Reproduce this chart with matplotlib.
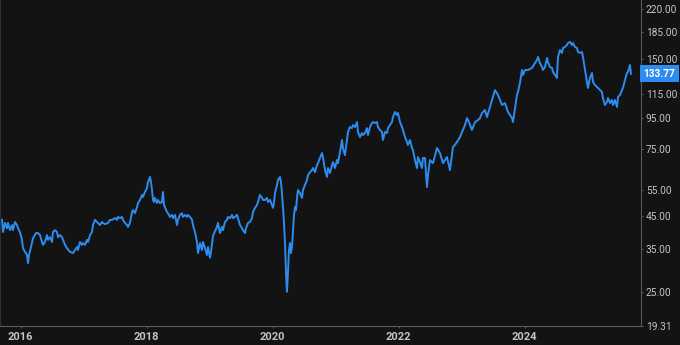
import matplotlib.pyplot as plt
from matplotlib.ticker import NullLocator

# price history (decimal year, price)
years = [
    2015.702, 2015.718, 2015.749, 2015.781, 2015.797, 2015.829, 2015.860, 2015.876, 2015.908, 2015.940,
    2015.956, 2015.987, 2016.019, 2016.035, 2016.067, 2016.099, 2016.114, 2016.130, 2016.162, 2016.194,
    2016.241, 2016.273, 2016.305, 2016.337, 2016.353, 2016.384, 2016.416, 2016.432, 2016.464, 2016.495,
    2016.511, 2016.543, 2016.575, 2016.591, 2016.622, 2016.654, 2016.670, 2016.702, 2016.733, 2016.781,
    2016.829, 2016.860, 2016.892, 2016.908, 2016.940, 2016.972, 2016.987, 2017.019, 2017.051, 2017.067,
    2017.099, 2017.130, 2017.146, 2017.178, 2017.210, 2017.226, 2017.257, 2017.289, 2017.305, 2017.337,
    2017.384, 2017.416, 2017.448, 2017.495, 2017.527, 2017.543, 2017.575, 2017.607, 2017.622, 2017.654,
    2017.686, 2017.702, 2017.733, 2017.765, 2017.781, 2017.813, 2017.845, 2017.860, 2017.892, 2017.924,
    2017.940, 2017.971, 2018.003, 2018.019, 2018.051, 2018.067, 2018.083, 2018.099, 2018.114, 2018.130,
    2018.162, 2018.178, 2018.210, 2018.241, 2018.257, 2018.273, 2018.321, 2018.337, 2018.368, 2018.400,
    2018.416, 2018.448, 2018.480, 2018.495, 2018.527, 2018.559, 2018.575, 2018.607, 2018.638, 2018.654,
    2018.686, 2018.718, 2018.733, 2018.765, 2018.797, 2018.813, 2018.845, 2018.876, 2018.892, 2018.924,
    2018.956, 2018.972, 2019.003, 2019.019, 2019.051, 2019.083, 2019.114, 2019.130, 2019.162, 2019.194,
    2019.210, 2019.241, 2019.273, 2019.289, 2019.321, 2019.353, 2019.368, 2019.400, 2019.432, 2019.448,
    2019.480, 2019.511, 2019.527, 2019.559, 2019.575, 2019.607, 2019.638, 2019.670, 2019.686, 2019.718,
    2019.749, 2019.765, 2019.797, 2019.829, 2019.845, 2019.876, 2019.908, 2019.924, 2019.956, 2019.987,
    2020.003, 2020.019, 2020.035, 2020.067, 2020.083, 2020.114, 2020.130, 2020.146, 2020.162, 2020.178,
    2020.194, 2020.210, 2020.225, 2020.241, 2020.257, 2020.273, 2020.289, 2020.305, 2020.321, 2020.337,
    2020.353, 2020.368, 2020.384, 2020.400, 2020.432, 2020.464, 2020.480, 2020.511, 2020.543, 2020.559,
    2020.591, 2020.622, 2020.638, 2020.670, 2020.702, 2020.718, 2020.749, 2020.781, 2020.797, 2020.829,
    2020.860, 2020.876, 2020.908, 2020.940, 2020.956, 2020.987, 2021.019, 2021.035, 2021.067, 2021.099,
    2021.114, 2021.146, 2021.178, 2021.194, 2021.225, 2021.257, 2021.273, 2021.305, 2021.337, 2021.353,
    2021.384, 2021.416, 2021.432, 2021.464, 2021.495, 2021.511, 2021.543, 2021.575, 2021.591, 2021.622,
    2021.654, 2021.670, 2021.702, 2021.733, 2021.749, 2021.781, 2021.813, 2021.829, 2021.860, 2021.892,
    2021.908, 2021.940, 2021.972, 2021.987, 2022.019, 2022.051, 2022.067, 2022.099, 2022.130, 2022.146,
    2022.178, 2022.210, 2022.225, 2022.257, 2022.289, 2022.305, 2022.337, 2022.368, 2022.384, 2022.416,
    2022.448, 2022.464, 2022.495, 2022.543, 2022.607, 2022.654, 2022.702, 2022.733, 2022.765, 2022.813,
    2022.860, 2022.892, 2022.924, 2022.972, 2023.003, 2023.019, 2023.051, 2023.083, 2023.114, 2023.162,
    2023.210, 2023.257, 2023.289, 2023.321, 2023.368, 2023.400, 2023.448, 2023.495, 2023.527, 2023.575,
    2023.607, 2023.638, 2023.686, 2023.733, 2023.797, 2023.813, 2023.845, 2023.876, 2023.892, 2023.924,
    2023.956, 2023.972, 2024.003, 2024.051, 2024.114, 2024.162, 2024.194, 2024.210, 2024.241, 2024.273,
    2024.289, 2024.321, 2024.353, 2024.368, 2024.400, 2024.432, 2024.448, 2024.480, 2024.511, 2024.527,
    2024.559, 2024.591, 2024.607, 2024.638, 2024.670, 2024.686, 2024.718, 2024.749, 2024.765, 2024.797,
    2024.829, 2024.845, 2024.876, 2024.908, 2024.924, 2024.956, 2024.987, 2025.003, 2025.035, 2025.067,
    2025.083, 2025.114, 2025.162, 2025.225, 2025.241, 2025.273, 2025.305, 2025.321, 2025.353, 2025.384,
    2025.400, 2025.432, 2025.464, 2025.480, 2025.511, 2025.543, 2025.559, 2025.591, 2025.622, 2025.638,
    2025.670, 2025.686,
]
prices = [
    43.6, 39.7, 42.6, 40.9, 42.6, 40.3, 41.9, 40.3, 42.9, 41.9,
    40.9, 39.7, 37.4, 35.1, 34.1, 33.3, 31.3, 33.3, 35.4, 37.9,
    39.4, 39.4, 38.8, 36.8, 36.0, 36.8, 38.8, 37.4, 38.2, 36.8,
    39.7, 40.3, 39.7, 38.2, 38.8, 38.2, 37.4, 36.0, 35.1, 34.1,
    33.8, 34.6, 35.4, 34.6, 36.8, 36.0, 36.5, 36.0, 37.4, 36.8,
    38.8, 39.7, 41.9, 43.6, 42.9, 42.6, 41.9, 42.9, 42.6, 42.2,
    42.6, 43.6, 43.6, 44.2, 43.6, 44.6, 44.2, 44.6, 43.6, 42.6,
    41.9, 41.3, 42.6, 46.3, 47.0, 45.9, 48.1, 49.6, 50.8, 52.8,
    52.0, 54.0, 55.7, 58.3, 60.6, 58.3, 54.8, 50.8, 50.0, 51.6,
    49.6, 50.8, 49.6, 50.0, 54.0, 48.9, 46.3, 45.9, 44.6, 45.3,
    44.2, 45.3, 41.9, 43.6, 45.3, 45.9, 44.6, 45.3, 44.6, 45.3,
    44.6, 43.6, 41.9, 39.7, 36.8, 33.8, 36.5, 34.6, 36.8, 35.1,
    33.3, 35.4, 32.6, 34.1, 38.5, 40.0, 41.3, 42.6, 39.4, 41.3,
    40.3, 42.9, 43.6, 44.6, 44.2, 45.3, 44.2, 44.6, 45.3, 44.2,
    41.9, 40.9, 40.3, 39.4, 40.9, 42.6, 42.9, 44.2, 46.3, 47.8,
    48.9, 50.0, 52.8, 51.6, 50.8, 50.8, 51.6, 50.0, 50.8, 48.9,
    47.8, 49.6, 53.6, 57.0, 59.2, 60.6, 58.3, 53.6, 48.1, 42.6,
    36.5, 29.0, 25.1, 29.0, 34.6, 36.5, 33.8, 35.4, 40.3, 45.3,
    48.1, 47.0, 51.6, 54.8, 53.6, 51.6, 54.8, 57.0, 59.2, 61.5,
    62.9, 63.9, 64.9, 62.9, 66.4, 67.4, 70.1, 72.8, 70.6, 63.9,
    60.6, 64.9, 62.5, 66.4, 67.9, 64.9, 69.0, 67.4, 73.4, 80.5,
    75.7, 71.7, 80.5, 85.6, 88.9, 88.2, 90.3, 88.9, 92.4, 85.6,
    82.3, 84.9, 83.6, 84.9, 88.2, 83.6, 88.9, 91.7, 92.4, 91.7,
    92.4, 88.9, 86.9, 85.6, 80.5, 85.6, 84.9, 88.2, 90.3, 92.4,
    96.0, 99.8, 97.5, 99.0, 92.4, 88.9, 86.9, 82.3, 79.3, 77.5,
    80.5, 75.7, 74.5, 69.0, 64.9, 70.6, 67.9, 64.9, 70.1, 70.1,
    56.1, 61.5, 69.0, 67.4, 75.7, 72.8, 67.4, 69.0, 70.6, 63.9,
    76.3, 77.5, 79.3, 82.3, 85.6, 86.9, 90.3, 95.2, 92.4, 86.9,
    92.4, 93.8, 95.2, 99.0, 101.3, 96.0, 103.7, 112.0, 118.1, 113.7,
    109.4, 105.3, 106.9, 99.8, 95.2, 92.4, 102.9, 113.7, 116.4, 124.7,
    137.7, 132.6, 137.7, 137.7, 139.9, 145.3, 148.7, 152.2, 145.3, 140.9,
    137.7, 140.9, 151.0, 146.4, 140.9, 139.9, 135.7, 132.6, 129.6, 152.2,
    160.6, 157.0, 163.1, 164.4, 166.9, 169.5, 170.8, 166.9, 169.5, 164.4,
    163.1, 158.2, 157.0, 158.2, 152.2, 137.7, 125.6, 120.0, 129.6, 134.6,
    125.6, 122.8, 120.0, 116.4, 111.1, 105.3, 107.7, 111.1, 106.9, 109.4,
    105.3, 109.4, 103.7, 112.0, 113.7, 118.1, 120.0, 127.6, 134.6, 135.7,
    143.1, 133.77,
]
last_price = 133.77

y_ticks = [19.31, 25, 35, 45, 55, 75, 95, 115, 150, 185, 220]
x_ticks = [2016, 2018, 2020, 2022, 2024]

bg = '#131313'
blue = '#2d8cf0'
axis_col = '#5a5a5a'
txt_col = '#c4c4c4'

plt.rcParams['font.family'] = ['Roboto', 'DejaVu Sans']

fig = plt.figure(figsize=(6.8, 3.45), dpi=100, facecolor=bg)
ax = fig.add_axes([0, 19 / 345, 641 / 680, 326 / 345])
ax.set_facecolor(bg)

ax.plot(years, prices, color=blue, lw=1.4, solid_joinstyle='round')

ax.set_yscale('log')
ax.set_ylim(19.31, 235.7)
ax.set_xlim(2015.670, 2025.845)

# right price axis
ax.yaxis.tick_right()
ax.set_yticks(y_ticks)
ax.set_yticklabels([f'{v:.2f}' for v in y_ticks])
ax.yaxis.set_minor_locator(NullLocator())
ax.tick_params(axis='y', length=1.5, width=0.8, color=axis_col, pad=2,
               labelsize=7.3, labelcolor=txt_col)

# bottom year axis
ax.set_xticks(x_ticks)
ax.set_xticklabels([str(v) for v in x_ticks])
ax.tick_params(axis='x', length=1.5, width=0.8, color=axis_col, pad=2.5,
               labelsize=8, labelcolor=txt_col)
for lab in ax.get_xticklabels():
    lab.set_fontweight('bold')

ax.spines['top'].set_visible(False)
for side in ['bottom', 'right']:
    ax.spines[side].set_color(axis_col)
    ax.spines[side].set_linewidth(0.8)
ax.spines['left'].set_color('#2e2e2e')
ax.spines['left'].set_linewidth(0.8)

# last price badge
ax.text(1.004, last_price, f'{last_price:.2f}', transform=ax.get_yaxis_transform(),
        ha='left', va='center', fontsize=7.3, fontweight='bold', color='white',
        bbox=dict(boxstyle='square,pad=0.35', fc=blue, ec='none'), clip_on=False)

fig.savefig('out.png', dpi=100, facecolor=bg)
